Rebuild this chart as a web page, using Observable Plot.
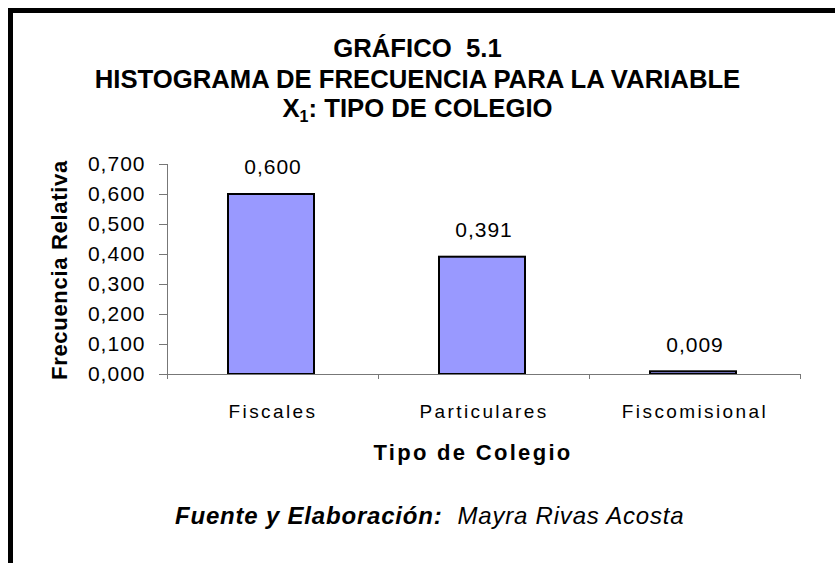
<!DOCTYPE html>
<html>
<head>
<meta charset="utf-8">
<script src="https://cdn.jsdelivr.net/npm/d3@7"></script>
<script src="https://cdn.jsdelivr.net/npm/@observablehq/plot@0.6"></script>
<style>
  html, body { margin: 0; padding: 0; background: #fff; }
  #wrap { position: relative; width: 835px; height: 563px; overflow: hidden; background: #fff;
          font-family: "Liberation Sans", Arial, sans-serif; color: #000; }
  #border { position: absolute; left: 8px; top: 8px; width: 900px; height: 700px;
            border-left: 5px solid #000; border-top: 5px solid #000; box-sizing: border-box; }
  .t { position: absolute; left: 0; width: 835px; text-align: center; font-weight: bold;
       font-size: 25.7px; line-height: 25.7px; white-space: pre; }
  .t sub { font-size: 16px; line-height: 0; vertical-align: -5px; }
  #chart { position: absolute; left: 0; top: 0; }
  #ylab { position: absolute; left: 59.5px; top: 270px; transform: translate(-50%, -50%) rotate(-90deg);
          font-weight: bold; font-size: 22px; line-height: 22px; white-space: nowrap; letter-spacing: 0.7px; }
  #xlab { position: absolute; left: 372px; top: 442px; width: 202px; text-align: center; font-weight: bold;
          font-size: 22px; line-height: 22px; white-space: nowrap; letter-spacing: 2.3px; }
  #foot { position: absolute; left: 175px; top: 504px; font-style: italic; font-size: 24px; line-height: 24px;
          white-space: pre; letter-spacing: 0.8px; }
  #foot b { font-weight: bold; }
  #chart svg g[aria-label="y-axis tick"] path,
  #chart svg g[aria-label="x-axis tick"] path { stroke: #777; }
</style>
</head>
<body>
<div id="wrap">
  <div id="border"></div>
  <div class="t" style="top:36px">GRÁFICO  5.1</div>
  <div class="t" style="top:67px">HISTOGRAMA DE FRECUENCIA PARA LA VARIABLE</div>
  <div class="t" style="top:96px">X<sub>1</sub>: TIPO DE COLEGIO</div>
  <div id="chart"></div>
  <div id="ylab">Frecuencia Relativa</div>
  <div id="xlab">Tipo de Colegio</div>
  <div id="foot"><b>Fuente y Elaboración:</b>  Mayra Rivas Acosta</div>
</div>
<script>
const categories = ["Fiscales", "Particulares", "Fiscomisional"];
const values = [0.600, 0.391, 0.009];
const yTicks = [0, 0.1, 0.2, 0.3, 0.4, 0.5, 0.6, 0.7];

const fmt = v => d3.format(".3f")(v).replace(".", ",");
const rows = categories.map((c, i) => ({category: c, value: values[i], x1: i, x2: i + 1, xc: i + 0.5}));
const gray = "#777";

const chart = Plot.plot({
  width: 835,
  height: 480,
  marginLeft: 167,
  marginRight: 35,
  marginTop: 164,
  marginBottom: 106,
  style: {fontFamily: '"Liberation Sans", Arial, sans-serif', fontSize: "21px", color: "#000", background: "transparent"},
  x: {type: "linear", domain: [0, categories.length], axis: null},
  y: {domain: [0, 0.7], axis: null},
  marks: [
    Plot.rectY(rows, {x1: "x1", x2: "x2", y: "value", insetLeft: 61, insetRight: 64,
      fill: "#9999FF", stroke: "#000", strokeWidth: 2}),
    Plot.ruleY([0], {stroke: gray, strokeWidth: 1}),
    Plot.ruleX([0], {stroke: gray, strokeWidth: 1}),
    Plot.axisY({ticks: yTicks, tickFormat: fmt, tickSize: 8, tickPadding: 14, fontSize: 21, label: null}),
    Plot.axisX({ticks: d3.range(categories.length + 1), tickSize: 5, tickFormat: () => "", label: null}),
    Plot.axisX({ticks: rows.map(d => d.xc), tickSize: 0, tickPadding: 30, fontSize: 19, label: null,
      tickFormat: v => categories[Math.floor(v)]}),
    Plot.text(rows, {x: "xc", y: "value", text: d => fmt(d.value), dy: -27, fontSize: 21})
  ]
});
document.getElementById("chart").appendChild(chart);
// letter spacing like the Excel rendering
chart.querySelectorAll('g[aria-label="x-axis tick label"] text').forEach(t => t.style.letterSpacing = "2.4px");
chart.querySelectorAll('g[aria-label="y-axis tick label"] text, g[aria-label="text"] text').forEach(t => t.style.letterSpacing = "1px");
</script>
</body>
</html>
